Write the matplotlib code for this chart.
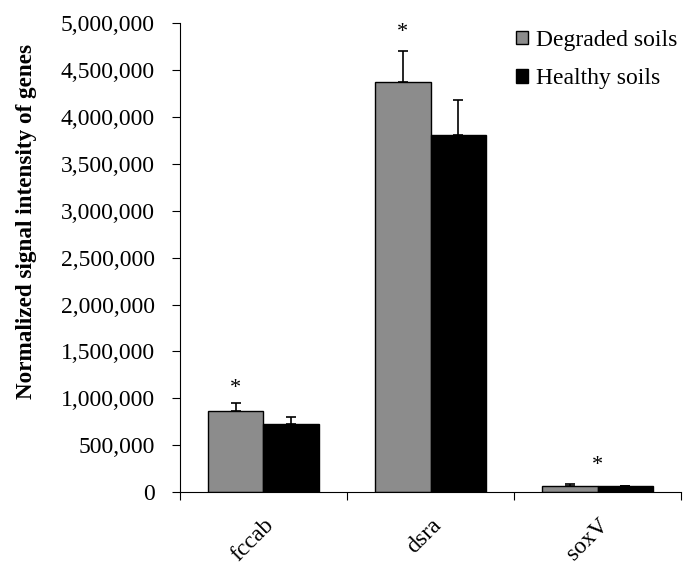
import matplotlib.pyplot as plt
import numpy as np
from matplotlib.ticker import FuncFormatter

genes = ['fccab', 'dsra', 'soxV']
degraded = [864000, 4375000, 67000]
degraded_err = [88000, 325000, 25000]
healthy = [725000, 3810000, 67000]
healthy_err = [75000, 370000, 0]
# asterisk positions (x offset from category centre, value)
star_x = [-0.165, -0.165, 0.0]
star_y = [1100000, 4900000, 280000]

plt.rcParams['font.family'] = ['Liberation Serif', 'DejaVu Serif']

fig = plt.figure(figsize=(7, 5.77), dpi=100)
ax = fig.add_axes([0.257, 0.147, 0.716, 0.813])

x = np.arange(len(genes))
w = 0.33
ekw = {'elinewidth': 1.2, 'capthick': 1.2, 'ecolor': 'black'}
ax.bar(x - w/2, degraded, w, color='#8c8c8c', edgecolor='black', linewidth=1,
       label='Degraded soils', yerr=[np.zeros(3), degraded_err], capsize=3.5, error_kw=ekw)
ax.bar(x + w/2, healthy, w, color='black', edgecolor='black', linewidth=1,
       label='Healthy soils', yerr=[np.zeros(3), healthy_err], capsize=3.5, error_kw=ekw)

for i in range(len(genes)):
    ax.text(x[i] + star_x[i], star_y[i], '*', ha='center', va='center', fontsize=16)

ax.set_xlim(-0.5, 2.5)
ax.set_ylim(0, 5000000)
ax.set_yticks(np.arange(0, 5000001, 500000))
ax.yaxis.set_major_formatter(FuncFormatter(lambda v, p: f'{int(v):,}'))
ax.set_xticks([-0.5, 0.5, 1.5, 2.5])
ax.set_xticklabels([])
ax.set_xticks(x, minor=True)
ax.set_xticklabels(genes, minor=True, rotation=45, ha='right', rotation_mode='anchor', fontsize=17)
ax.tick_params(axis='x', which='minor', length=0, pad=16)
ax.tick_params(axis='x', which='major', length=6, direction='out')
ax.tick_params(axis='y', length=6, direction='out', labelsize=17, pad=12)
ax.spines['top'].set_visible(False)
ax.spines['right'].set_visible(False)
ax.set_ylabel('Normalized signal intensity of genes', fontsize=16.7, fontweight='bold')
ax.yaxis.set_label_coords(-0.286, 0.578)

ax.legend(loc='upper right', frameon=False, fontsize=17, handlelength=0.5, handleheight=0.5,
          handletextpad=0.35, borderaxespad=0.0, labelspacing=0.75,
          bbox_to_anchor=(1.012, 1.006))

fig.savefig('out.png', dpi=100)
